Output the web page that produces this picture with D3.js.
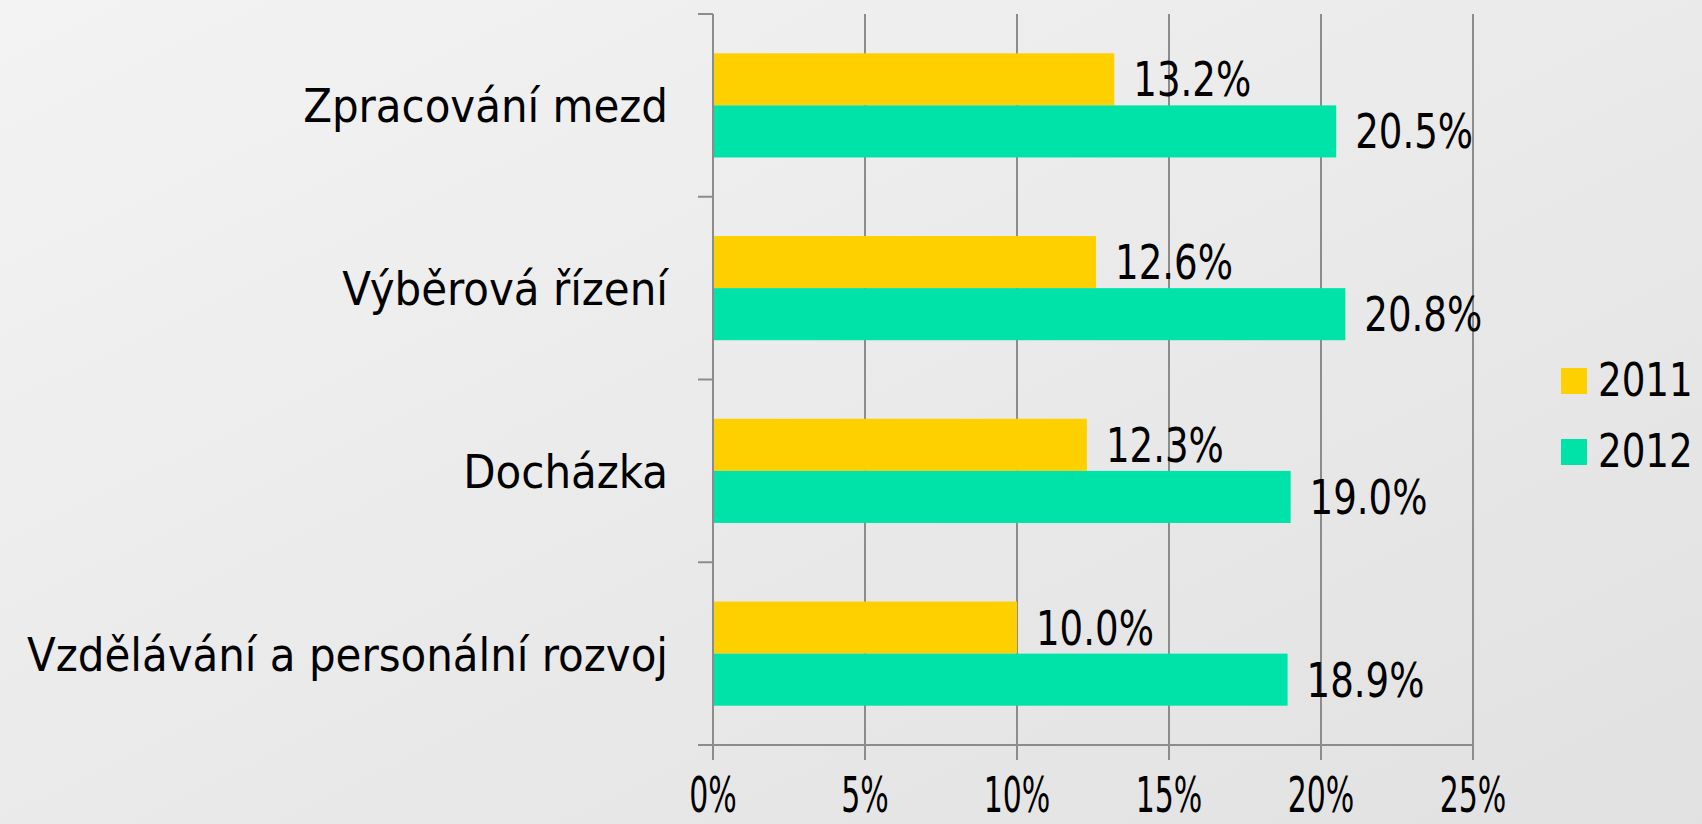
<!DOCTYPE html>
<html>
<head>
<meta charset="utf-8">
<script src="https://cdn.jsdelivr.net/npm/d3@7"></script>
<style>
  html, body { margin: 0; padding: 0; overflow: hidden; }
  svg { display: block; font-family: "DejaVu Sans Condensed", "DejaVu Sans", sans-serif; }
</style>
</head>
<body>
<div id="root_bar"></div>
<script>
var categories = ["Zpracování mezd", "Výběrová řízení", "Docházka", "Vzdělávání a personální rozvoj"];
var seriesNames = ["2011", "2012"];
var values2011 = [13.2, 12.6, 12.3, 10.0];
var values2012 = [20.5, 20.8, 19.0, 18.9];
var tickValues = [0, 5, 10, 15, 20, 25];
var colors = ["#ffd000", "#00e3a8"];

window.onload = function () {
    var width = 1702, height = 824;
    var left = 713, right = 1473, top = 14, bottom = 745;

    var svg = d3.select("#root_bar")
        .append("svg")
        .attr("width", width)
        .attr("height", height);

    var grad = svg.append("defs").append("linearGradient")
        .attr("id", "bg")
        .attr("x1", "0").attr("y1", "0").attr("x2", "1").attr("y2", "1");
    grad.append("stop").attr("offset", "0%").attr("stop-color", "#f3f3f3");
    grad.append("stop").attr("offset", "100%").attr("stop-color", "#e1e1e1");
    svg.append("rect").attr("width", width).attr("height", height).attr("fill", "url(#bg)");

    var x = d3.scaleLinear().domain([0, 25]).range([left, right]);
    var y = d3.scaleBand()
        .domain(categories)
        .range([top, bottom])
        .paddingInner(0.43)
        .paddingOuter(0.215);
    var ySub = d3.scaleBand().domain(seriesNames).range([0, y.bandwidth()]);

    var rows = categories.map(function (c, i) {
        return { cat: c, vals: [values2011[i], values2012[i]] };
    });

    // grid lines
    svg.append("g").selectAll("line")
        .data(tickValues.slice(1))
        .enter().append("line")
        .attr("x1", function (d) { return x(d); })
        .attr("x2", function (d) { return x(d); })
        .attr("y1", top).attr("y2", bottom)
        .attr("stroke", "#8c8c8c").attr("stroke-width", 2);

    // bars
    var g = svg.append("g").selectAll("g")
        .data(rows)
        .enter().append("g")
        .attr("transform", function (d) { return "translate(0," + y(d.cat) + ")"; });

    g.selectAll("rect")
        .data(function (d) { return d.vals.map(function (v, k) { return { v: v, k: k }; }); })
        .enter().append("rect")
        .attr("x", x(0))
        .attr("y", function (d) { return ySub(seriesNames[d.k]); })
        .attr("width", function (d) { return x(d.v) - x(0); })
        .attr("height", ySub.bandwidth())
        .attr("fill", function (d) { return colors[d.k]; });

    g.selectAll("text")
        .data(function (d) { return d.vals.map(function (v, k) { return { v: v, k: k }; }); })
        .enter().append("text")
        .attr("transform", function (d) {
            return "translate(" + (x(d.v) + 19) + "," + (ySub(seriesNames[d.k]) + ySub.bandwidth() / 2 + 17) + ") scale(0.86,1)";
        })
        .attr("font-size", 48)
        .attr("fill", "#000")
        .text(function (d) { return d.v.toFixed(1) + "%"; });

    // axes
    var axis = svg.append("g").attr("stroke", "#8c8c8c").attr("stroke-width", 2);
    axis.append("line").attr("x1", left).attr("x2", left).attr("y1", top).attr("y2", bottom);
    axis.append("line").attr("x1", left - 15).attr("x2", right).attr("y1", bottom).attr("y2", bottom);
    var yTicks = categories.map(function (c) { return y(c) - y.step() * y.paddingInner() / 2; });
    yTicks.push(bottom);
    axis.selectAll(".yt").data(yTicks).enter().append("line")
        .attr("x1", left - 15).attr("x2", left)
        .attr("y1", function (d) { return d; }).attr("y2", function (d) { return d; });
    axis.selectAll(".xt").data(tickValues).enter().append("line")
        .attr("x1", function (d) { return x(d); }).attr("x2", function (d) { return x(d); })
        .attr("y1", bottom).attr("y2", bottom + 15);

    // tick labels
    svg.append("g").selectAll("text")
        .data(tickValues)
        .enter().append("text")
        .attr("transform", function (d) { return "translate(" + x(d) + ",812) scale(0.68,1)"; })
        .attr("text-anchor", "middle")
        .attr("font-size", 49)
        .attr("fill", "#000")
        .text(function (d) { return d + "%"; });

    // category labels
    svg.append("g").selectAll("text")
        .data(categories)
        .enter().append("text")
        .attr("transform", function (d) { return "translate(668," + (y(d) + y.bandwidth() / 2 + 17) + ") scale(1.015,1)"; })
        .attr("text-anchor", "end")
        .attr("font-size", 46)
        .attr("fill", "#000")
        .text(function (d) { return d; });

    // legend
    var leg = svg.append("g").selectAll("g")
        .data(seriesNames)
        .enter().append("g")
        .attr("transform", function (d, i) { return "translate(1561," + (368 + i * 71) + ")"; });
    leg.append("rect").attr("width", 26).attr("height", 26)
        .attr("fill", function (d, i) { return colors[i]; });
    leg.append("text")
        .attr("transform", "translate(37,28) scale(0.9,1)")
        .attr("font-size", 46)
        .attr("fill", "#000")
        .text(function (d) { return d; });
};
</script>
</body>
</html>
